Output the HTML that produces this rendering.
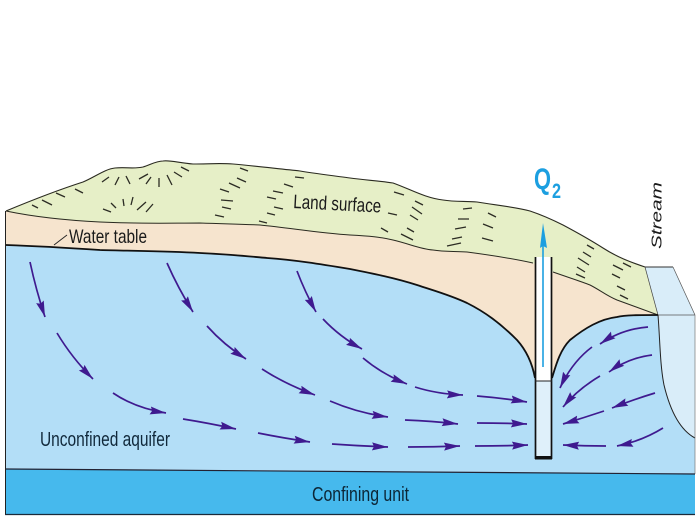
<!DOCTYPE html>
<html><head><meta charset="utf-8"><style>
html,body{margin:0;padding:0;background:#fff}
svg{display:block}
text{font-family:"Liberation Sans",sans-serif}
</style></head><body>
<svg width="700" height="525" viewBox="0 0 700 525" xmlns="http://www.w3.org/2000/svg">
<defs>
<marker id="h" markerUnits="userSpaceOnUse" markerWidth="20" markerHeight="12" refX="16" refY="6" orient="auto">
<path d="M0,2 L16,6 L0,10 L2,6 Z" fill="#3f1a8f"/>
</marker>
</defs>
<rect width="700" height="525" fill="#fff"/>
<!-- aquifer -->
<path d="M5,245 L560,245 L658,315 L695,315 L695,474 L5,469 Z" fill="#b3def7"/>
<!-- sand -->
<path id="sand" d="M6,211 C30,216 60,220 100,222 C140,224 170,223 200,223 C230,224 240,224 260,225 C290,228 320,233 350,235 C370,236 380,237 393,240 C410,244 420,249 433,250 C445,252 455,251 467,252 C490,255 510,258 533,263 L553,272 C570,278 580,281 590,285 C600,290 607,296 617,300 L658,315 C640,315 625,315 617,317 C600,319 585,328 570,340 C560,350 556,365 552,378 L535,378 C532,362 526,350 517,340 C500,323 485,312 467,303 C450,295 435,291 417,285 C395,278 375,274 350,269 C320,264 295,260 267,258 C245,256 225,254 200,253 C165,251 135,251 100,250 C70,248 35,246 6,245 Z" fill="#f6e4ce"/>
<!-- land -->
<path d="M6,211 C30,201 55,191 83,182 C95,177 105,169 115,168 C125,167 135,169 143,167 C150,165 156,161 163,161 C170,160 180,163 193,164 C208,164 220,163 233,164 C255,166 280,169 300,171 C318,174 335,176 350,178 C365,180 380,181 393,183 C410,189 425,198 443,200 C455,202 465,201 477,202 C495,205 515,207 530,211 C545,216 555,221 563,225 C578,233 592,241 603,248 C617,257 630,262 645,267 L658,315 L617,300 C607,296 600,290 590,285 C580,281 570,278 553,272 L533,263 C510,258 490,255 467,252 C455,251 445,252 433,250 C420,249 410,244 393,240 C380,237 370,236 350,235 C320,233 290,228 260,225 C240,224 230,224 200,223 C170,223 140,224 100,222 C60,220 30,216 6,211 Z" fill="#e6efc7"/>
<!-- stream -->
<path d="M645,267 L673,267 L695,315 L658,315 Z" fill="#d9edf9"/>
<path d="M645,267 L673,267" stroke="#333" stroke-width="1" fill="none"/>
<path d="M673,267 L695,315" stroke="#555" stroke-width="0.7" fill="none"/>
<path d="M658,315 L695,315 L695,438 C680,430 670,410 664,385 C660,365 660,340 658,315 Z" fill="#d9edf9"/>
<path d="M658,315 L695,315" stroke="#555" stroke-width="0.7" fill="none"/>
<path d="M658,315 C660,340 660,365 664,385 C670,410 680,430 695,438" stroke="#222" stroke-width="1" fill="none"/>
<path d="M695,315 L695,474" stroke="#777" stroke-width="0.7" fill="none"/>
<!-- confining -->
<path d="M5,469 L695,474 L695,514 L5,514 Z" fill="#46b9ed"/>
<path d="M5,469 L695,474" stroke="#223" stroke-width="1.2" fill="none"/>
<path d="M5,514.5 L695,514.5" stroke="#1a2a3a" stroke-width="1.2" fill="none"/>
<path d="M5.5,211 L5.5,514" stroke="#222" stroke-width="1" fill="none"/>
<!-- outlines -->
<path d="M6,211 C30,201 55,191 83,182 C95,177 105,169 115,168 C125,167 135,169 143,167 C150,165 156,161 163,161 C170,160 180,163 193,164 C208,164 220,163 233,164 C255,166 280,169 300,171 C318,174 335,176 350,178 C365,180 380,181 393,183 C410,189 425,198 443,200 C455,202 465,201 477,202 C495,205 515,207 530,211 C545,216 555,221 563,225 C578,233 592,241 603,248 C617,257 630,262 645,267" fill="none" stroke="#2a2a20" stroke-width="1.1"/>
<path d="M6,211 C30,216 60,220 100,222 C140,224 170,223 200,223 C230,224 240,224 260,225 C290,228 320,233 350,235 C370,236 380,237 393,240 C410,244 420,249 433,250 C445,252 455,251 467,252 C490,255 510,258 533,263 M553,272 C570,278 580,281 590,285 C600,290 607,296 617,300 L658,315" fill="none" stroke="#2a2a20" stroke-width="1"/>
<path d="M645,267 L658,315" stroke="#444" stroke-width="0.7" fill="none"/>
<!-- water table -->
<path d="M6,245 C35,246 70,248 100,250 C135,251 165,251 200,253 C225,254 245,256 267,258 C295,260 320,264 350,269 C375,274 395,278 417,285 C435,291 450,295 467,303 C485,312 500,323 517,340 C526,350 532,362 535,378" fill="none" stroke="#111" stroke-width="1.8"/>
<path d="M552,378 C556,365 560,350 570,340 C585,328 600,319 617,317 C625,315 640,315 658,315" fill="none" stroke="#111" stroke-width="1.8"/>
<path d="M54,245 L67,235" stroke="#222" stroke-width="0.9" fill="none"/>
<!-- hachures -->
<path fill="none" stroke="#2c2c24" stroke-width="1.3" d="M32,205L38,208M42,200L52,205M56,193L65,197M75,189L83,193M102,182L109,177M115,185L119,177M130,184L126,176M139,179L148,174M146,184L151,177M159,187L159,178M172,185L167,175M182,177L174,172M189,171L181,167M103,209L111,212M111,203L116,208M123,199L124,206M133,197L131,205M146,202L137,210M153,204L146,212M240,168L248,171M237,178L246,182M229,183L240,188M220,189L229,192M221,200L233,201M222,207L231,209M215,215L224,217M295,177L304,178M284,184L293,187M273,191L283,193M267,197L276,199M274,207L283,209M267,213L275,215M259,221L267,223M394,192L404,195M415,201L423,205M412,207L422,214M410,215L418,220M388,213L397,215M381,228L388,232M407,228L414,232M401,234L413,240M463,209L472,208M458,219L469,219M455,229L466,227M452,239L462,237M447,246L461,243M488,213L496,217M483,224L493,228M482,238L493,241M587,245L594,249M583,252L591,257M578,258L589,265M577,267L585,272M576,274L585,278M623,263L631,267M613,265L623,270M612,274L620,278M617,286L625,290M620,295L628,299"/>
<!-- well -->
<rect x="536" y="257" width="15" height="124" fill="#fff"/>
<rect x="536" y="381" width="15" height="76" fill="#dff0fa"/>
<path d="M535.5,257 L535.5,459 M551.5,257 L551.5,459" stroke="#111" stroke-width="1.7" fill="none"/>
<path d="M535,381 L552,381" stroke="#222" stroke-width="1" fill="none"/>
<rect x="535" y="456" width="17" height="3.5" fill="#111"/>
<path d="M543,245 L543,367" stroke="#1c9fe0" stroke-width="1.6" fill="none"/>
<path d="M543,223 L547,248 L543,246 L540,248 Z" fill="#1c9fe0"/>
<!-- flow arrows -->
<g fill="none" stroke="#3f1a8f" stroke-width="1.7">
<path marker-end="url(#h)" d="M30,262 Q36,290 45,317"/>
<path marker-end="url(#h)" d="M167,263 Q178,288 193,312"/>
<path marker-end="url(#h)" d="M297,271 Q305,292 316,312"/>
<path marker-end="url(#h)" d="M57,333 Q72,358 93,379"/>
<path marker-end="url(#h)" d="M207,326 Q224,345 246,359"/>
<path marker-end="url(#h)" d="M323,319 Q340,337 362,349"/>
<path marker-end="url(#h)" d="M113,393 Q135,408 166,413"/>
<path marker-end="url(#h)" d="M262,369 Q285,384 315,395"/>
<path marker-end="url(#h)" d="M363,358 Q382,374 407,384"/>
<path marker-end="url(#h)" d="M183,419 Q208,423 236,429"/>
<path marker-end="url(#h)" d="M330,401 Q358,413 388,417"/>
<path marker-end="url(#h)" d="M415,387 Q437,394 463,395"/>
<path marker-end="url(#h)" d="M258,433 Q283,438 310,442"/>
<path marker-end="url(#h)" d="M405,420 Q432,421 458,424"/>
<path marker-end="url(#h)" d="M477,396 Q502,398 527,402"/>
<path marker-end="url(#h)" d="M332,444 Q360,446 388,447"/>
<path marker-end="url(#h)" d="M408,447 Q434,447 460,446"/>
<path marker-end="url(#h)" d="M477,423 Q502,423 527,424"/>
<path marker-end="url(#h)" d="M475,446 Q502,446 528,445"/>
<path marker-end="url(#h)" d="M648,327 Q622,329 600,344"/>
<path marker-end="url(#h)" d="M592,347 Q572,362 560,388"/>
<path marker-end="url(#h)" d="M652,355 Q628,358 609,372"/>
<path marker-end="url(#h)" d="M600,376 Q578,389 563,407"/>
<path marker-end="url(#h)" d="M655,393 Q632,400 612,408"/>
<path marker-end="url(#h)" d="M604,411 Q583,418 563,424"/>
<path marker-end="url(#h)" d="M663,428 Q642,441 617,446"/>
<path marker-end="url(#h)" d="M606,446 Q585,446 563,445"/>
</g>
<!-- labels -->
<text x="69" y="243" font-size="19.5" textLength="78" lengthAdjust="spacingAndGlyphs" fill="#1a1a1a">Water table</text>
<text x="293" y="208" font-size="19.5" textLength="88" lengthAdjust="spacingAndGlyphs" fill="#1a1a1a" transform="rotate(3 293 208)">Land surface</text>
<text x="40" y="446" font-size="20" textLength="130" lengthAdjust="spacingAndGlyphs" fill="#10283a">Unconfined aquifer</text>
<text x="312" y="501" font-size="20" textLength="97" lengthAdjust="spacingAndGlyphs" fill="#0c2535">Confining unit</text>
<text x="534" y="189" font-size="30" textLength="17" lengthAdjust="spacingAndGlyphs" fill="#1c9fe0" font-weight="bold">Q</text>
<text x="552" y="198" font-size="21" textLength="9" lengthAdjust="spacingAndGlyphs" fill="#1c9fe0" font-weight="bold">2</text>
<text x="0" y="0" font-size="15" font-style="italic" textLength="67" lengthAdjust="spacingAndGlyphs" fill="#1a1a1a" transform="translate(661.5,249) rotate(-90)">Stream</text>
</svg>
</body></html>
